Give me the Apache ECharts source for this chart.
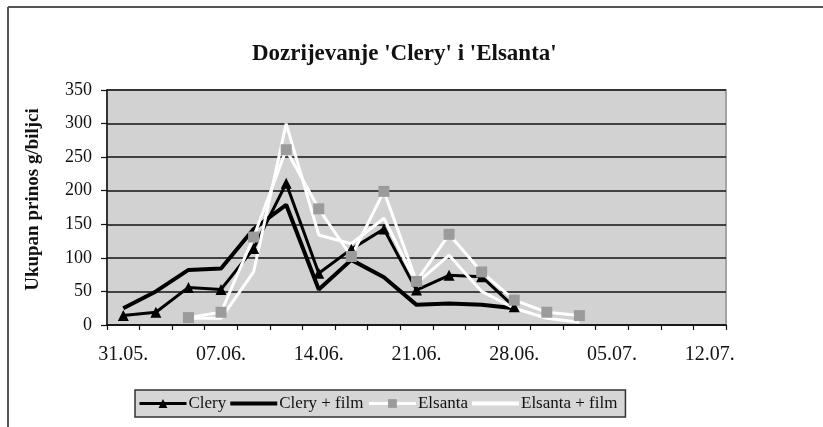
<!DOCTYPE html>
<html>
<head>
<meta charset="utf-8">
<script src="https://cdn.jsdelivr.net/npm/echarts@6/dist/echarts.min.js"></script>
<style>
html,body{margin:0;padding:0;background:#fff;}
#chart{width:823px;height:427px;}
</style>
</head>
<body>
<div id="chart"></div>
<script>
// 19 harvest slots on the category axis; date label shown every 3rd slot
const categories = ['0','1','2','3','4','5','6','7','8','9','10','11','12','13','14','15','16','17','18'];
const tickLabels = ['31.05.','07.06.','14.06.','21.06.','28.06.','05.07.','12.07.'];
const yTicks = [0, 50, 100, 150, 200, 250, 300, 350];

const clery        = [14, 19, 56, 53, 114, 211, 77, 113, 143, 52, 74, 72, 27, null, null, null, null, null, null];
const cleryFilm    = [25, 50, 82, 84, 143, 179, 53, 97, 71, 30, 32, 30, 25, null, null, null, null, null, null];
const elsanta      = [null, null, 11, 19, 131, 261, 173, 102, 199, 65, 135, 79, 37, 19, 14, null, null, null, null];
const elsantaFilm  = [null, null, 10, 10, 79, 300, 134, 121, 159, 62, 104, 50, 25, 10, 4, null, null, null, null];

const FONT = '"Liberation Serif", "Times New Roman", serif';
const LINE_ICON = 'path://M0,0 L47,0 L47,4 L0,4 Z';
const chart = echarts.init(document.getElementById('chart'), null, {renderer: 'canvas'});

chart.setOption({
  animation: false,
  backgroundColor: '#ffffff',
  title: {
    text: "Dozrijevanje 'Clery' i 'Elsanta'",
    left: 247,
    top: 38,
    textStyle: {fontFamily: FONT, fontWeight: 'bold', fontSize: 23, color: '#111'}
  },
  graphic: [
    {type: 'line', shape: {x1: 8, y1: 7, x2: 823, y2: 7}, style: {stroke: '#555', lineWidth: 2}},
    {type: 'line', shape: {x1: 8, y1: 7, x2: 8, y2: 427}, style: {stroke: '#555', lineWidth: 2}}
  ],
  grid: {
    left: 107, top: 90, width: 619, height: 235,
    show: true, backgroundColor: '#d2d2d2', borderColor: '#a3a3a3', borderWidth: 2
  },
  legend: {
    left: 135, top: 390,
    padding: [5, 8, 5, 3],
    itemGap: 4,
    itemWidth: 47, itemHeight: 11,
    backgroundColor: '#d6d6d6',
    borderColor: '#333', borderWidth: 1.5, borderRadius: 0,
    textStyle: {fontFamily: FONT, fontSize: 17, color: '#111', padding: [0, 0, 0, -3]},
    data: [
      {name: 'Clery', lineStyle: {width: 3}},
      {name: 'Clery + film', icon: LINE_ICON},
      {name: 'Elsanta', lineStyle: {width: 3}},
      {name: 'Elsanta + film', icon: LINE_ICON}
    ]
  },
  xAxis: {
    type: 'category',
    data: categories,
    boundaryGap: true,
    axisLine: {show: true, lineStyle: {color: '#111', width: 1.5}},
    axisTick: {show: true, interval: 0, length: 5, lineStyle: {color: '#111', width: 1.2}},
    axisLabel: {
      interval: 0, margin: 20,
      fontFamily: FONT, fontSize: 20, color: '#111',
      formatter: function (v, i) { return i % 3 === 0 ? tickLabels[i / 3] : ''; }
    },
    splitLine: {show: false}
  },
  yAxis: {
    type: 'value',
    min: yTicks[0], max: yTicks[yTicks.length - 1], interval: 50,
    name: 'Ukupan prinos g/biljci',
    nameLocation: 'middle', nameRotate: 90, nameGap: 64,
    nameTextStyle: {fontFamily: FONT, fontWeight: 'bold', fontSize: 19, color: '#111', padding: [0, 0, 0, 16]},
    axisLine: {show: true, lineStyle: {color: '#111', width: 1.5}},
    axisTick: {show: true, length: 6, lineStyle: {color: '#111', width: 1.2}},
    axisLabel: {margin: 15, fontFamily: FONT, fontSize: 18, color: '#111'},
    splitLine: {show: true, lineStyle: {color: '#111', width: 1.5}}
  },
  series: [
    {
      name: 'Clery', type: 'line', data: clery,
      symbol: 'triangle', symbolSize: 11, showAllSymbol: true,
      itemStyle: {color: '#000'},
      lineStyle: {color: '#000', width: 3}
    },
    {
      name: 'Clery + film', type: 'line', data: cleryFilm,
      symbol: 'none',
      itemStyle: {color: '#000'},
      lineStyle: {color: '#000', width: 4}
    },
    {
      name: 'Elsanta', type: 'line', data: elsanta,
      symbol: 'rect', symbolSize: 11, showAllSymbol: true,
      itemStyle: {color: '#9b9b9b'},
      lineStyle: {color: '#ffffff', width: 3}
    },
    {
      name: 'Elsanta + film', type: 'line', data: elsantaFilm,
      symbol: 'none',
      itemStyle: {color: '#ffffff'},
      lineStyle: {color: '#ffffff', width: 3}
    }
  ]
});
</script>
</body>
</html>
